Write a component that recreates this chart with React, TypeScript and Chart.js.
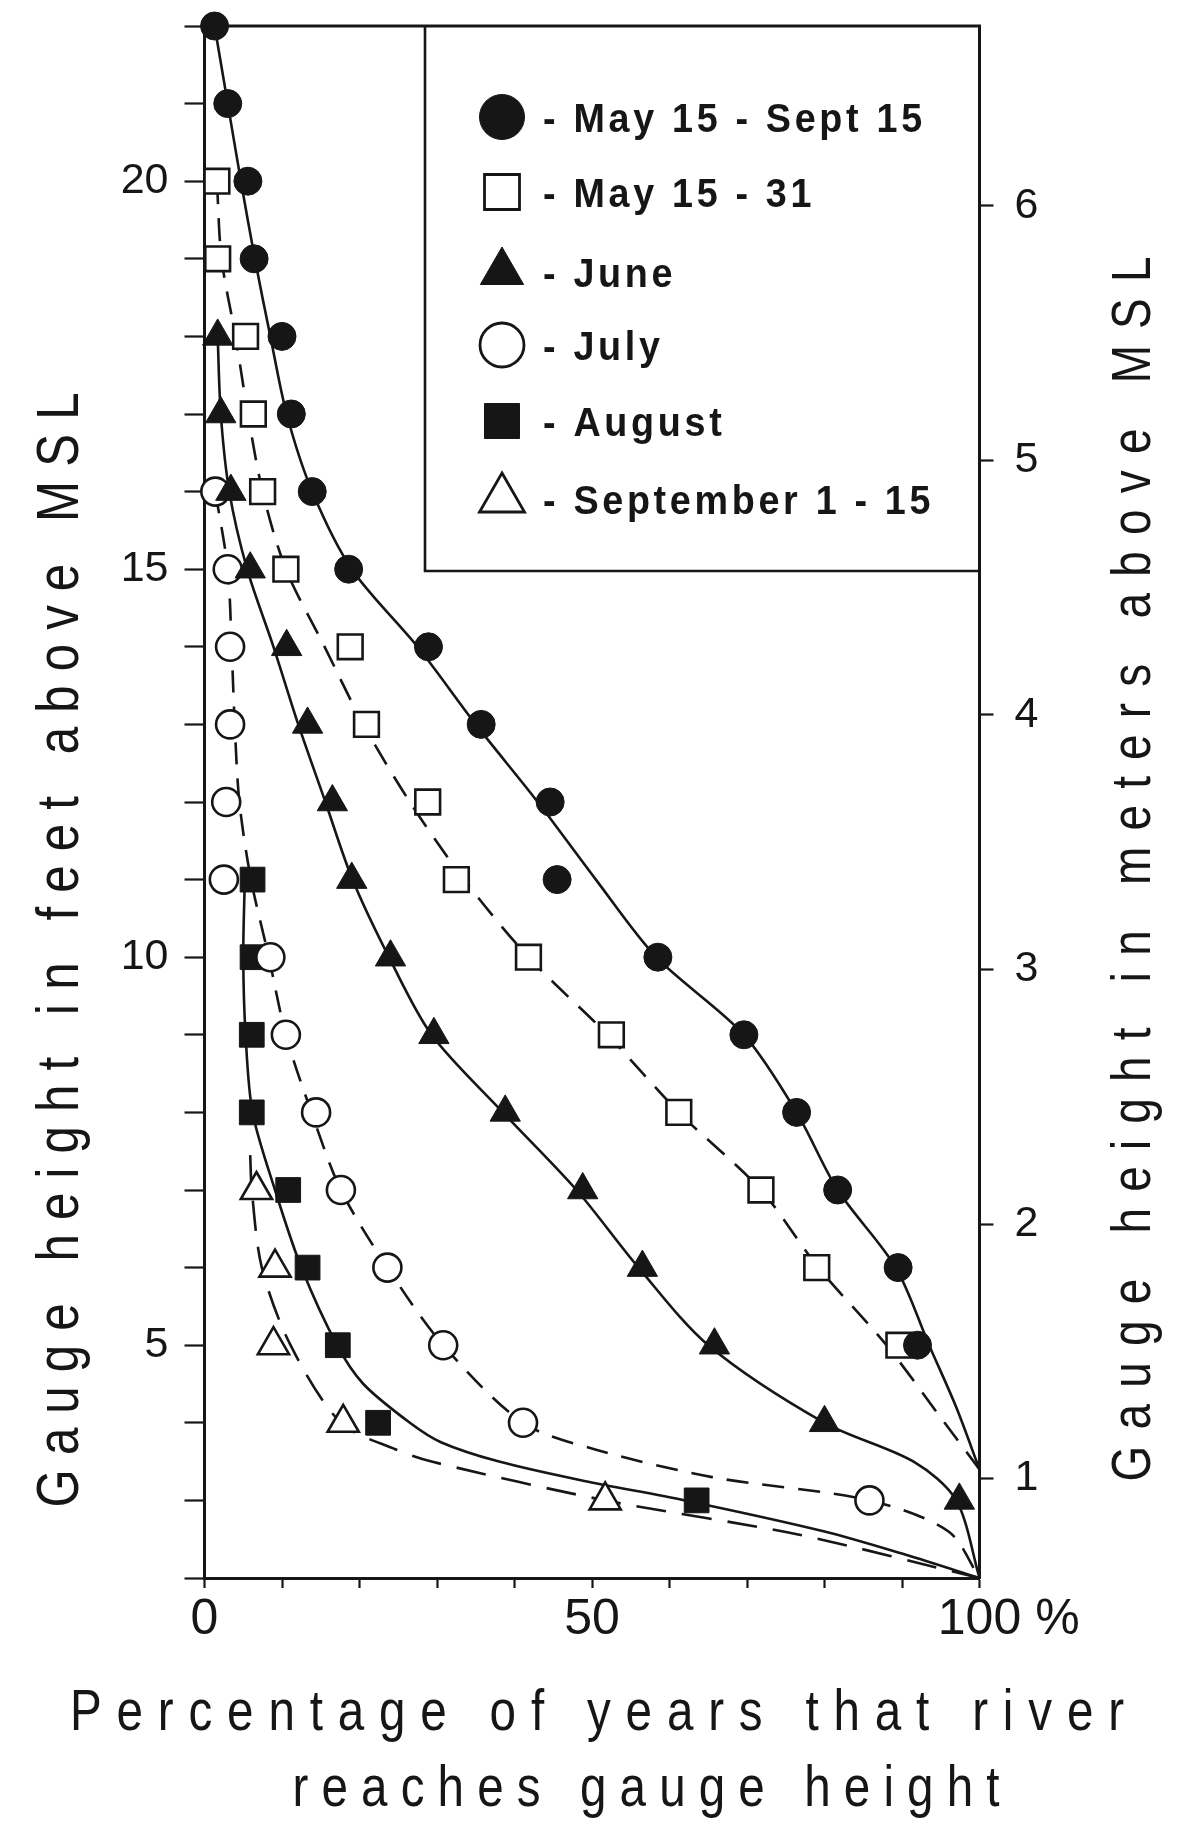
import React, { useEffect, useRef } from 'react';
import { Chart, registerables } from 'chart.js';

Chart.register(...registerables);

const W = 1177;
const H = 1832;
const INK = '#161616';
const FONT = '"Liberation Sans", Arial, sans-serif';
const FT_PER_M = 3.2808;

// ---------- observed points: gauge height (ft) vs % of years ----------
const seasonFeet = [22, 21, 20, 19, 18, 17, 16, 15, 14, 13, 12, 11, 10, 9, 8, 7, 6, 5];
const seasonPct = [1.3, 3.0, 5.6, 6.4, 10.0, 11.2, 13.9, 18.6, 28.9, 35.7, 44.6, 45.5, 58.5, 69.6, 76.4, 81.7, 89.5, 92.0];

const lateMayFeet = [20, 19, 18, 17, 16, 15, 14, 13, 12, 11, 10, 9, 8, 7, 6, 5];
const lateMayPct = [1.6, 1.7, 5.3, 6.3, 7.5, 10.5, 18.8, 20.9, 28.8, 32.5, 41.8, 52.5, 61.2, 71.8, 79.0, 89.6];

const juneFeet = [18, 17, 16, 15, 14, 13, 12, 11, 10, 9, 8, 7, 6, 5, 4, 3];
const junePct = [1.7, 2.1, 3.4, 5.9, 10.6, 13.3, 16.5, 19.0, 24.0, 29.6, 38.8, 48.8, 56.5, 65.8, 80.0, 97.4];

const julyFeet = [16, 15, 14, 13, 12, 11, 10, 9, 8, 7, 6, 5, 4, 3];
const julyPct = [1.4, 3.0, 3.3, 3.3, 2.8, 2.5, 8.5, 10.5, 14.4, 17.6, 23.6, 30.8, 41.1, 85.8];

const augustFeet = [11, 10, 9, 8, 7, 6, 5, 4, 3];
const augustPct = [6.2, 6.2, 6.1, 6.1, 10.8, 13.3, 17.2, 22.4, 63.5];

const septFeet = [7, 6, 5, 4, 3];
const septPct = [6.7, 9.1, 8.9, 17.9, 51.7];

// ---------- hand-drawn fitted curves ----------
const seasonCurveFeet = [22, 21, 20, 19, 18, 17, 16, 15, 14, 13, 12, 11, 10, 9, 8, 7, 6, 5, 4.2, 3.4];
const seasonCurvePct = [1.3, 3.0, 4.7, 6.5, 8.5, 10.6, 13.9, 19.0, 27.5, 35.0, 43.0, 50.5, 58.3, 69.6, 76.4, 81.7, 89.2, 93.5, 97.0, 100];

const lateMayCurveFeet = [20, 19, 18, 17, 16, 15, 14, 13, 12, 11, 10, 9, 8, 7, 6, 5, 4, 3.4];
const lateMayCurvePct = [1.6, 2.2, 4.0, 5.6, 7.5, 10.5, 15.5, 20.5, 26.5, 33.5, 41.8, 52.0, 61.2, 71.8, 79.2, 88.0, 95.5, 100];

const juneCurveFeet = [18, 17, 16, 15, 14, 13, 12, 11, 10, 9, 8, 7, 6, 5, 4, 3.5, 3, 2];
const juneCurvePct = [1.7, 2.1, 3.2, 5.5, 8.9, 12.1, 15.6, 19.1, 23.8, 29.3, 38.5, 48.0, 56.0, 65.0, 80.0, 91.5, 97.0, 100];

const julyCurveFeet = [16, 15, 14, 13, 12, 11, 10, 9, 8, 7, 6, 5, 4, 3.66, 3.3, 3, 2.6, 2];
const julyCurvePct = [1.4, 3.0, 3.5, 3.9, 4.5, 6.0, 8.3, 10.5, 13.8, 17.6, 23.6, 30.8, 41.1, 50.3, 65.5, 85.8, 96.0, 100];

const augustCurveFeet = [11, 10, 9, 8, 7, 6, 5, 4.5, 4, 3.75, 3.5, 3.25, 3, 2.6, 2.3, 2];
const augustCurvePct = [5.2, 5.0, 5.3, 6.2, 9.1, 12.5, 17.1, 20.5, 26.5, 30.5, 38.0, 49.0, 62.0, 80.0, 90.5, 100];

const septCurveFeet = [7.45, 7, 6, 5, 4, 3.66, 3.5, 3, 2.56, 2];
const septCurvePct = [5.9, 6.1, 7.4, 11.1, 17.6, 24.6, 29.3, 51.7, 76.6, 100];

// ---------- labels & ticks ----------
const legendLabels = ['May 15 - Sept 15', 'May 15 - 31', 'June', 'July', 'August', 'September 1 - 15'];
const xTickLabels = [0, 50, 100];
const feetTickLabels = [5, 10, 15, 20];
const meterTickLabels = [1, 2, 3, 4, 5, 6];
const xTitleLines = ['Percentage of years that river', 'reaches gauge height'];
const yTitle = 'Gauge height in feet above MSL';
const y2Title = 'Gauge height in meters above MSL';

type MarkerStyle = 'circle' | 'rect' | 'triangle';
const markerStyles: MarkerStyle[] = ['circle', 'rect', 'triangle', 'circle', 'rect', 'triangle'];
const markerFilled = [true, false, true, false, true, false];
const markerRadius = [14, 17.5, 17.5, 14, 17.5, 18];
const legendSizes = [22.5, 17.5, 25, 22, 17.5, 26];
const curveDashes: number[][] = [[], [23, 14], [], [22, 14], [], [30, 16]];

const seriesPct = [seasonPct, lateMayPct, junePct, julyPct, augustPct, septPct];
const seriesFeet = [seasonFeet, lateMayFeet, juneFeet, julyFeet, augustFeet, septFeet];
const curvesPct = [seasonCurvePct, lateMayCurvePct, juneCurvePct, julyCurvePct, augustCurvePct, septCurvePct];
const curvesFeet = [seasonCurveFeet, lateMayCurveFeet, juneCurveFeet, julyCurveFeet, augustCurveFeet, septCurveFeet];

const toPts = (pct: number[], feet: number[]) => pct.map((x, i) => ({ x, y: feet[i] }));

function spacedText(
  ctx: CanvasRenderingContext2D,
  text: string,
  o: { x: number; y: number; size: number; weight?: string; sx?: number; length?: number; spacing?: number; rotate?: boolean; align?: 'center' | 'left' }
) {
  const sx = o.sx ?? 1;
  ctx.save();
  ctx.translate(o.x, o.y);
  if (o.rotate) ctx.rotate(-Math.PI / 2);
  ctx.scale(sx, 1);
  ctx.font = `${o.weight ?? 'normal'} ${o.size}px ${FONT}`;
  ctx.textBaseline = 'alphabetic';
  ctx.textAlign = 'left';
  ctx.fillStyle = INK;
  const chars = Array.from(text);
  const widths = chars.map((c) => ctx.measureText(c).width);
  const natural = widths.reduce((a, b) => a + b, 0);
  let sp = o.spacing ?? 0;
  if (o.length != null) sp = (o.length / sx - natural) / (chars.length - 1);
  const total = natural + sp * (chars.length - 1);
  let cx = (o.align ?? 'center') === 'center' ? -total / 2 : 0;
  chars.forEach((c, i) => {
    ctx.fillText(c, cx, 0);
    cx += widths[i] + sp;
  });
  ctx.restore();
}

function drawSymbol(ctx: CanvasRenderingContext2D, style: MarkerStyle, filled: boolean, x: number, y: number, s: number) {
  ctx.save();
  ctx.beginPath();
  if (style === 'circle') ctx.arc(x, y, s, 0, Math.PI * 2);
  else if (style === 'rect') ctx.rect(x - s, y - s, 2 * s, 2 * s);
  else {
    const k = Math.sin((2 * Math.PI) / 3);
    ctx.moveTo(x, y - s);
    ctx.lineTo(x + s * k, y + s / 2);
    ctx.lineTo(x - s * k, y + s / 2);
    ctx.closePath();
  }
  ctx.fillStyle = filled ? INK : '#ffffff';
  ctx.fill();
  ctx.lineWidth = filled ? 1 : 2.8;
  ctx.strokeStyle = INK;
  ctx.stroke();
  ctx.restore();
}

const X_TICK_FONT = 50;

const decorPlugin = {
  id: 'decor',
  beforeDraw(chart: any) {
    const { ctx } = chart;
    ctx.save();
    ctx.fillStyle = '#ffffff';
    ctx.fillRect(0, 0, chart.width, chart.height);
    ctx.restore();
  },
  beforeDatasetsDraw(chart: any) {
    const { ctx, chartArea } = chart;
    ctx.save();
    ctx.strokeStyle = INK;
    ctx.lineWidth = 3;
    ctx.beginPath();
    ctx.moveTo(chartArea.left - 1.5, chartArea.top);
    ctx.lineTo(chartArea.right + 1.5, chartArea.top);
    ctx.stroke();
    ctx.restore();
  },
  afterDraw(chart: any) {
    const { ctx, chartArea, scales } = chart;
    // legend box (shares top and right frame)
    const boxLeft = 425;
    const boxBottom = 571;
    ctx.save();
    ctx.strokeStyle = INK;
    ctx.lineWidth = 2.6;
    ctx.beginPath();
    ctx.moveTo(boxLeft, chartArea.top);
    ctx.lineTo(boxLeft, boxBottom);
    ctx.lineTo(chartArea.right, boxBottom);
    ctx.stroke();
    ctx.restore();
    const rowsY = [117, 192, 272, 345, 421, 499];
    legendLabels.forEach((lab, i) => {
      const yy = rowsY[i];
      drawSymbol(ctx, markerStyles[i], markerFilled[i], 502, yy, legendSizes[i]);
      spacedText(ctx, '- ' + lab, { x: 543, y: yy + 15, size: 41, weight: 'bold', sx: 0.92, spacing: 4, align: 'left' });
    });

    // "%" after the 100 tick label
    const xs = scales.x;
    const px = xs.getPixelForValue(100);
    ctx.save();
    ctx.font = `normal ${X_TICK_FONT}px ${FONT}`;
    const w100 = ctx.measureText('100').width;
    ctx.fillStyle = INK;
    ctx.textAlign = 'left';
    ctx.textBaseline = 'middle';
    ctx.fillText('%', px + w100 / 2 + 14, chartArea.bottom + 10 + 2 + X_TICK_FONT * 0.6);
    ctx.restore();

    // axis titles
    spacedText(ctx, xTitleLines[0], { x: 597, y: 1730, size: 58, sx: 0.82, length: 1054 });
    spacedText(ctx, xTitleLines[1], { x: 646, y: 1806, size: 58, sx: 0.82, length: 707 });
    spacedText(ctx, yTitle, { x: 78, y: 950, size: 60, sx: 0.82, length: 1115, rotate: true });
    spacedText(ctx, y2Title, { x: 1150, y: 869, size: 56, sx: 0.82, length: 1225, rotate: true });
  },
};

export default function App() {
  const ref = useRef<HTMLCanvasElement>(null);

  useEffect(() => {
    const canvas = ref.current;
    if (!canvas) return;
    Chart.defaults.font.family = FONT;

    const curveSets = curvesPct.map((pct, i) => ({
      label: legendLabels[i] + ' (curve)',
      data: toPts(pct, curvesFeet[i]),
      showLine: true,
      borderColor: INK,
      borderWidth: 2.6,
      borderDash: curveDashes[i],
      pointRadius: 0,
      pointHoverRadius: 0,
      tension: 0.3,
      fill: false,
      clip: false as any,
      order: 2,
    }));
    const markerSets = seriesPct.map((pct, i) => ({
      label: legendLabels[i],
      data: toPts(pct, seriesFeet[i]),
      showLine: false,
      pointStyle: markerStyles[i],
      pointRadius: markerRadius[i],
      pointHoverRadius: markerRadius[i],
      pointBackgroundColor: markerFilled[i] ? INK : '#ffffff',
      pointBorderColor: INK,
      pointBorderWidth: markerFilled[i] ? 1 : 2.6,
      clip: false as any,
      order: 1,
    }));

    const chart = new Chart(canvas, {
      type: 'scatter',
      data: { datasets: [...markerSets, ...curveSets] as any },
      options: {
        responsive: false,
        animation: false,
        devicePixelRatio: 1,
        events: [],
        layout: { padding: { left: 104.5, right: 97.5, top: 26, bottom: 174 } },
        plugins: { legend: { display: false }, tooltip: { enabled: false } },
        scales: {
          x: {
            type: 'linear',
            position: 'bottom',
            min: 0,
            max: 100,
            afterFit: (s: any) => { s.height = 80; },
            ticks: {
              stepSize: 10,
              autoSkip: false,
              maxRotation: 0,
              padding: 2,
              color: INK,
              font: { size: X_TICK_FONT },
              callback: (v: any) => (xTickLabels.includes(Number(v)) ? String(v) : ''),
            },
            grid: { drawOnChartArea: false, drawTicks: true, tickLength: 10, tickWidth: 2.2, tickColor: INK },
            border: { display: true, color: INK, width: 3 },
          },
          y: {
            type: 'linear',
            position: 'left',
            min: 2,
            max: 22,
            afterFit: (s: any) => { s.width = 100; },
            ticks: {
              stepSize: 1,
              autoSkip: false,
              padding: 16,
              color: INK,
              font: { size: 43, lineHeight: 0.2 },
              callback: (v: any) => (feetTickLabels.includes(Number(v)) ? String(v) : ''),
            },
            grid: { drawOnChartArea: false, drawTicks: true, tickLength: 20, tickWidth: 2.2, tickColor: INK },
            border: { display: true, color: INK, width: 3 },
          },
          yM: {
            type: 'linear',
            position: 'right',
            min: 2 / FT_PER_M,
            max: 22 / FT_PER_M,
            afterFit: (s: any) => { s.width = 100; },
            ticks: {
              stepSize: 1,
              includeBounds: false,
              autoSkip: false,
              padding: 21,
              color: INK,
              font: { size: 43, lineHeight: 0.2 },
              callback: (v: any) => (meterTickLabels.includes(Number(v)) ? String(v) : ''),
            },
            grid: { drawOnChartArea: false, drawTicks: true, tickLength: 14, tickWidth: 2.2, tickColor: INK },
            border: { display: true, color: INK, width: 3 },
          },
        },
      } as any,
      plugins: [decorPlugin],
    });
    return () => chart.destroy();
  }, []);

  return (
    <div style={{ position: 'absolute', left: 0, top: 0, width: W, height: H, background: '#ffffff' }}>
      <canvas ref={ref} width={W} height={H} style={{ width: W, height: H, display: 'block' }} />
    </div>
  );
}
